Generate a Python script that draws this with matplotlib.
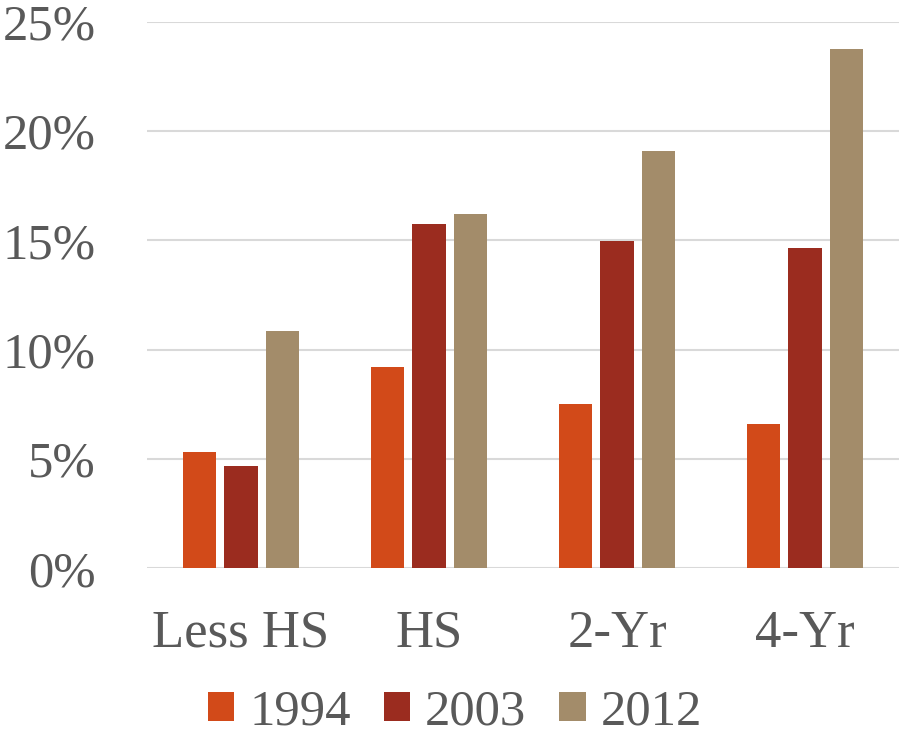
import matplotlib
matplotlib.use("Agg")
import matplotlib.pyplot as plt
import numpy as np
from matplotlib.patches import Patch

categories = ["Less HS", "HS", "2-Yr", "4-Yr"]
years = ["1994", "2003", "2012"]
share_1994 = [5.3, 9.2, 7.5, 6.6]
share_2003 = [4.7, 15.75, 14.95, 14.65]
share_2012 = [10.85, 16.2, 19.1, 23.75]
yticks = [0, 5, 10, 15, 20, 25]

colors = ["#D24A19", "#9B2C1F", "#A38C6A"]
text_color = "#595959"
grid_color = "#D9D9D9"

plt.rcParams["font.family"] = ["Liberation Serif", "DejaVu Serif"]

fig = plt.figure(figsize=(8.99, 7.35), dpi=100)
ax = fig.add_axes([147 / 899, 1 - 568.3 / 735, 752 / 899, (568.3 - 21.7) / 735])

x = np.arange(len(categories))
step = 0.223
width = 0.176
series = [share_1994, share_2003, share_2012]
for i, (vals, col) in enumerate(zip(series, colors)):
    ax.bar(x + (i - 1) * step, vals, width=width, color=col, zorder=3)

ax.set_xlim(-0.5, 3.5)
ax.set_ylim(0, 25)
ax.set_yticks(yticks)
ax.set_yticklabels([f"{v}%" for v in yticks])
ax.set_xticks(x)
ax.set_xticklabels(categories)

ax.yaxis.grid(True, color=grid_color, linewidth=1.5, zorder=0)
ax.set_axisbelow(True)
for side in ["left", "right", "top", "bottom"]:
    ax.spines[side].set_visible(False)

ax.tick_params(axis="y", length=0, pad=37, labelsize=36.5, labelcolor=text_color)
ax.tick_params(axis="x", length=0, pad=30, labelsize=38, labelcolor=text_color)

handles = [Patch(facecolor=c, edgecolor="none") for c in colors]
fig.legend(handles, years, loc="center", bbox_to_anchor=(0.506, 1 - 712 / 735),
           ncol=3, frameon=False, fontsize=36.5, labelcolor=text_color,
           handlelength=0.52, handleheight=0.52, handletextpad=0.3,
           columnspacing=0.65, borderpad=0, borderaxespad=0)

fig.savefig("out.png", dpi=100)
